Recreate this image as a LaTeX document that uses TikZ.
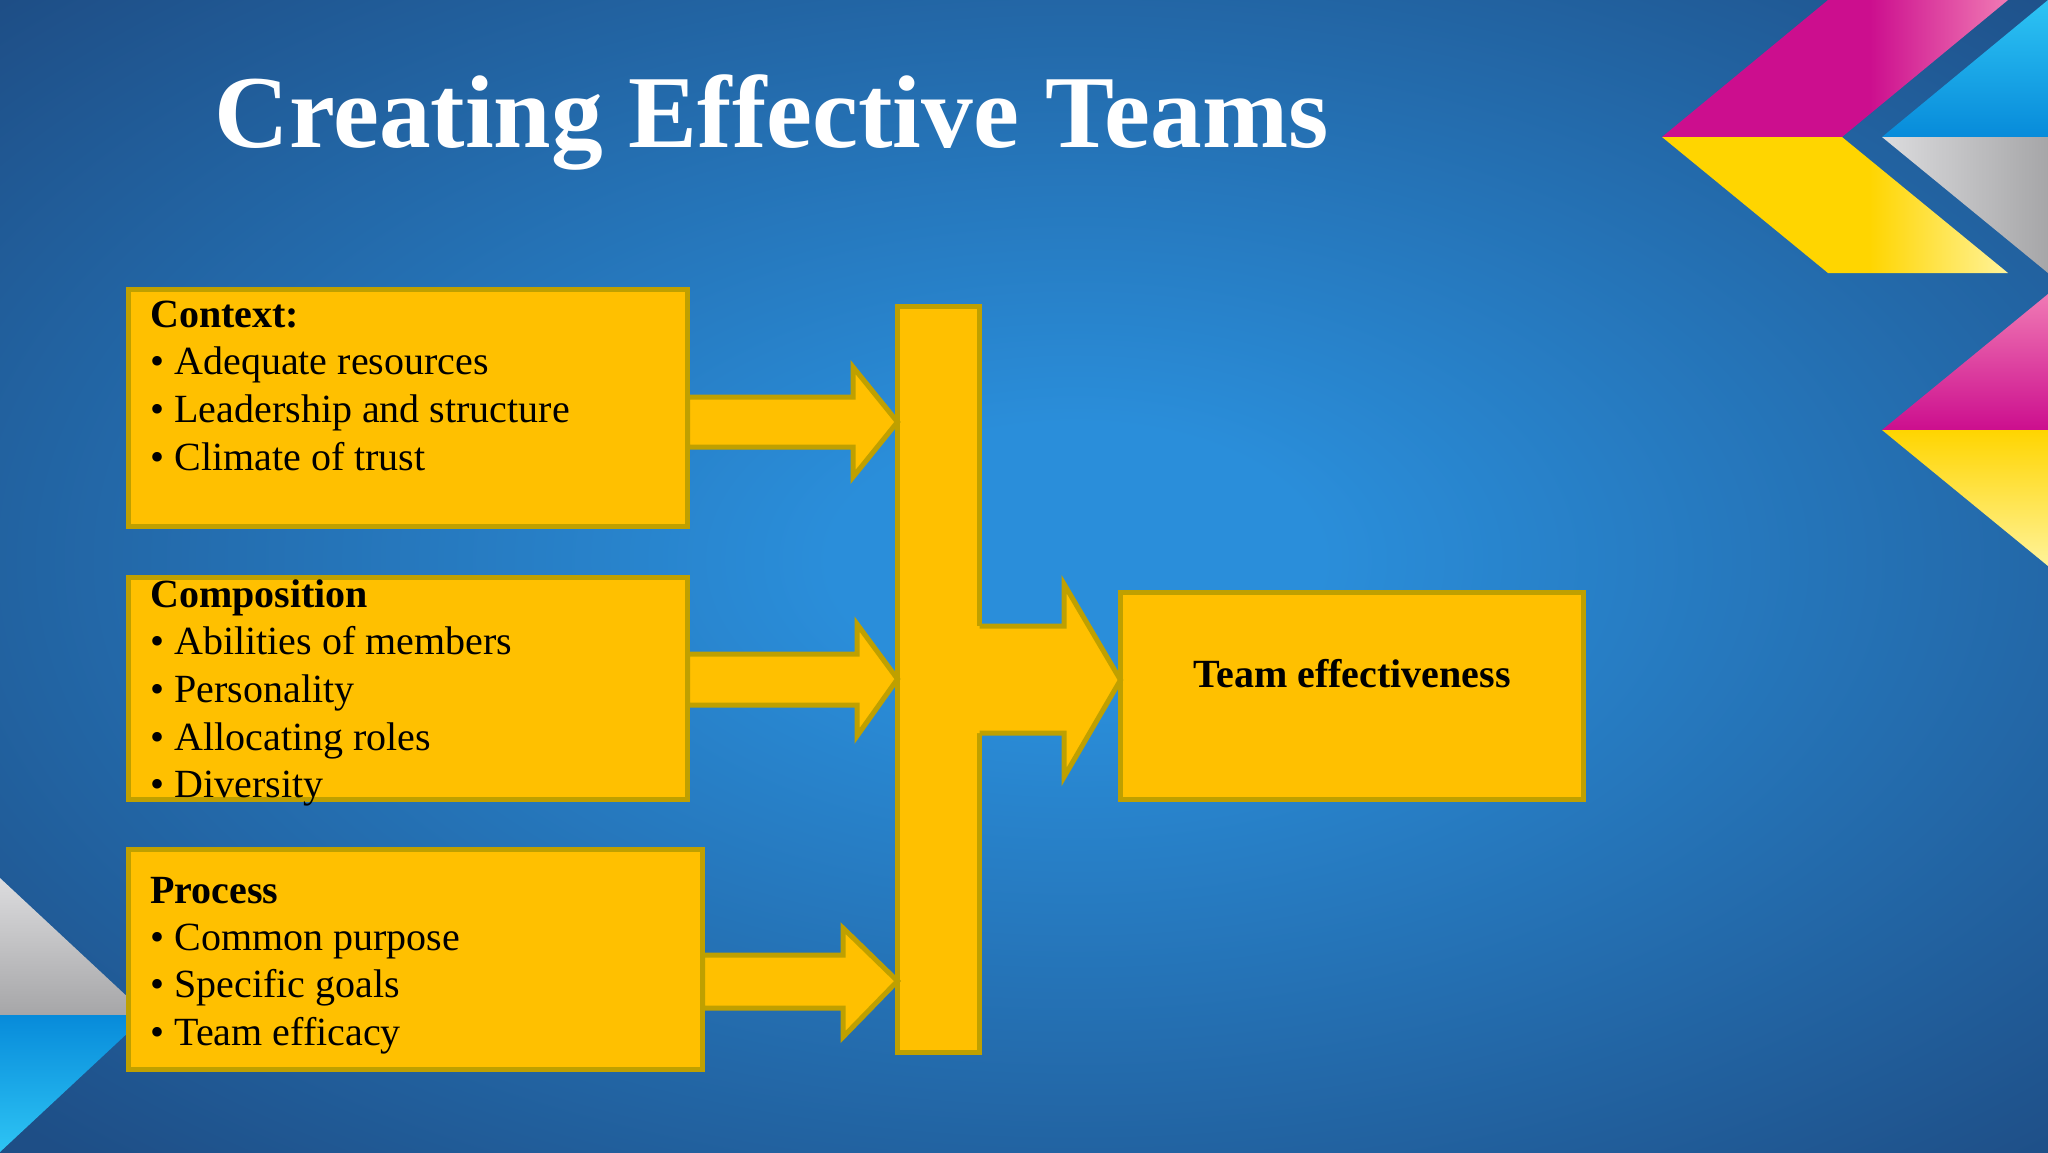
\documentclass[tikz,border=0pt]{standalone}
\usepackage{fontspec}
\setmainfont{Liberation Serif}
\usetikzlibrary{calc}
\definecolor{bgin}{HTML}{2A8EDA}
\definecolor{bgout}{HTML}{1E4E86}
\definecolor{boxfill}{HTML}{FFC000}
\definecolor{gold}{HTML}{BFA000}
\definecolor{magA}{HTML}{CC0E8E}
\definecolor{magB}{HTML}{F07AB4}
\definecolor{yelA}{HTML}{FFD500}
\definecolor{yelB}{HTML}{FFF39A}
\definecolor{bluA}{HTML}{078BDA}
\definecolor{bluB}{HTML}{2EC4F4}
\definecolor{gryA}{HTML}{A6A6A8}
\definecolor{gryB}{HTML}{DCDCDE}
\pgfdeclareradialshading{bgrad}{\pgfpoint{0bp}{0bp}}{color(0bp)=(bgin); color(5bp)=(bgin); color(30bp)=(bgout); color(50bp)=(bgout)}
\pgfdeclarehorizontalshading{magsh}{100bp}{color(0bp)=(magA); color(55bp)=(magA); color(75bp)=(magB); color(100bp)=(magB)}
\pgfdeclarehorizontalshading{yelsh}{100bp}{color(0bp)=(yelA); color(55bp)=(yelA); color(75bp)=(yelB); color(100bp)=(yelB)}
\tikzset{
  panel/.style={draw=gold, fill=boxfill, line width=2.5pt, rectangle, inner sep=0pt, outer sep=0pt, anchor=north west},
  flow/.style={draw=gold, fill=boxfill, line width=2.5pt, line join=miter},
  headtxt/.style={anchor=base west, inner sep=0pt, font=\bfseries\fontsize{20}{24}\selectfont},
  itemtxt/.style={anchor=base west, inner sep=0pt, font=\fontsize{20}{24}\selectfont},
}
\begin{document}
\begin{tikzpicture}[x=0.5pt,y=-0.5pt]
\useasboundingbox (0,0) rectangle (2048,1152);
\begin{scope}
\clip (0,0) rectangle (2048,1152);
\shade[shading=bgrad] (-150,-120) rectangle (2300,1240);
% top-right decoration
\shade[shading=magsh] (1662,137) -- (1828,0) -- (2008,0) -- (1842,137) -- cycle;
\shade[shading=yelsh] (1662,137) -- (1842,137) -- (2008,273) -- (1828,273) -- cycle;
\shade[top color=bluB, bottom color=bluA] (1882,137) -- (2048,0) -- (2048,137) -- cycle;
\shade[left color=gryB, right color=gryA] (1882,137) -- (2048,137) -- (2048,273) -- cycle;
\shade[bottom color=magA, middle color=magA, top color=magB] (1882,430) -- (2048,294) -- (2048,430) -- cycle;
\shade[top color=yelA, middle color=yelA, bottom color=yelB] (1882,430) -- (2048,430) -- (2048,566) -- cycle;
% bottom-left decoration
\shade[top color=gryB, bottom color=gryA] (0,878) -- (147,1015) -- (0,1015) -- cycle;
\shade[top color=bluA, bottom color=bluB] (0,1015) -- (147,1015) -- (0,1152) -- cycle;
\end{scope}

% title
\node[anchor=base west, inner sep=0pt, text=white, font=\bfseries\fontsize{51.7}{60}\selectfont] (title) at (214,147) {Creating Effective Teams};

% boxes
\node[panel, minimum width=279.5pt, minimum height=118.5pt] (ctx) at (128.5,289.5) {};
\node[panel, minimum width=279.5pt, minimum height=111pt] (comp) at (128.5,577.5) {};
\node[panel, minimum width=287pt, minimum height=110pt] (proc) at (128.5,849.5) {};
\node[panel, minimum width=41pt, minimum height=373pt] (bar) at (897.5,306.5) {};
\node[panel, minimum width=231.5pt, minimum height=103.5pt] (team) at (1120.5,592.5) {};

% small arrows
\draw[flow] (ctx.east |- 0,397) -- (853,397) -- (853,367) -- (bar.west |- 0,422) -- (853,477) -- (853,447) -- (ctx.east |- 0,447) -- cycle;
\draw[flow] (comp.east |- 0,654) -- (857,654) -- (857,624) -- (bar.west |- 0,679) -- (857,736) -- (857,705) -- (comp.east |- 0,705) -- cycle;
\draw[flow] (proc.east |- 0,955) -- (843,955) -- (843,928) -- (bar.west |- 0,981) -- (843,1037) -- (843,1008) -- (proc.east |- 0,1008) -- cycle;

% big arrow
\fill[boxfill] ($(bar.east |- 0,626)+(-6,0)$) -- (1064,626) -- (1064,584) -- (team.west |- 0,680) -- (1064,777) -- (1064,733) -- ($(bar.east |- 0,733)+(-6,0)$) -- cycle;
\draw[flow, fill=none] (bar.east |- 0,626) -- (1064,626) -- (1064,584) -- (team.west |- 0,680) -- (1064,777) -- (1064,733) -- (bar.east |- 0,733);

% texts
\node[headtxt] (c0) at (150,327) {Context:};
\node[itemtxt] (c1) at (150,374) {• Adequate resources};
\node[itemtxt] (c2) at (150,422) {• Leadership and structure};
\node[itemtxt] (c3) at (150,470) {• Climate of trust};

\node[headtxt] (m0) at (150,607) {Composition};
\node[itemtxt] (m1) at (150,654) {• Abilities of members};
\node[itemtxt] (m2) at (150,702) {• Personality};
\node[itemtxt] (m3) at (150,750) {• Allocating roles};
\node[itemtxt] (m4) at (150,797) {• Diversity};

\node[headtxt] (p0) at (150,903) {Process};
\node[itemtxt] (p1) at (150,950) {• Common purpose};
\node[itemtxt] (p2) at (150,997) {• Specific goals};
\node[itemtxt] (p3) at (150,1045) {• Team efficacy};

\node[anchor=base, inner sep=0pt, font=\bfseries\fontsize{20}{24}\selectfont] (teamlbl) at (team.north |- 0,687) {Team effectiveness};
\end{tikzpicture}
\end{document}
